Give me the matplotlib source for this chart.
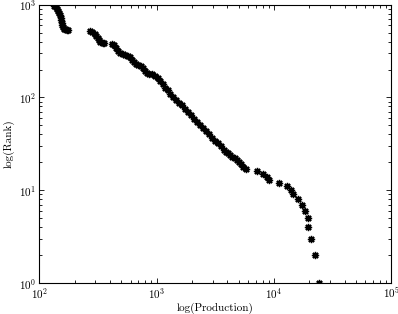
import matplotlib
matplotlib.use("Agg")
import matplotlib.pyplot as plt
from matplotlib.ticker import LogLocator, NullFormatter

plt.rcParams['font.family'] = 'serif'
plt.rcParams['font.serif'] = ['cmr10']
plt.rcParams['mathtext.fontset'] = 'cm'
plt.rcParams['axes.formatter.use_mathtext'] = True

# Rank / production pairs
rank = [1, 2, 3, 4, 5, 6, 7, 8, 9, 10, 11, 12, 13, 14, 15, 16,
        17, 18, 19, 20, 21, 22, 23, 24, 25, 26,
        27, 30, 32, 34, 37, 40, 43, 47, 50, 55, 59, 64, 70, 75, 82, 88, 95,
        102, 110, 119, 128, 139, 150, 162, 170, 177, 181, 185, 195, 207,
        218, 226, 232, 241, 256, 272, 283, 290, 297, 305, 320, 345, 367, 381,
        386, 390, 400, 415, 436, 464, 488, 513, 526,
        532, 535, 542, 553, 574, 603, 641, 682, 726, 773, 822, 864, 907, 942, 966]
production = [24000, 22400, 20800, 19650, 19600, 18240, 17360, 15960, 14640, 13850,
              12860, 11050, 9150, 8650, 7995, 7136,
              5728, 5453, 5193, 4992, 4847, 4660, 4393, 4224, 4062, 3905,
              3755, 3540, 3337, 3147, 2967, 2797, 2637, 2486, 2344, 2211, 2084,
              1965, 1852, 1746, 1646, 1553, 1464,
              1380, 1301, 1239, 1179, 1123, 1069, 1018, 969, 914, 862, 820, 789, 758,
              729, 694, 661, 636, 611, 588, 565, 538, 512, 488, 469, 451, 434, 417,
              356, 346, 332, 323, 314, 304, 296, 284, 273,
              177, 172, 167, 162, 159, 157, 155, 153, 152, 150, 148, 145, 142, 138, 134]

fig = plt.figure(figsize=(3.98, 3.14), dpi=100)
ax = fig.add_axes([0.0987, 0.0987, 0.9833 - 0.0987, 0.985 - 0.0987])

ax.plot(production, rank, linestyle='none', marker=(8, 2, 0), markersize=5.2,
        markeredgewidth=1.0, color='black')

ax.set_xscale('log')
ax.set_yscale('log')
ax.set_xlim(1e2, 1e5)
ax.set_ylim(1e0, 1e3)

for axis in (ax.xaxis, ax.yaxis):
    axis.set_major_locator(LogLocator(base=10, numticks=10))
    axis.set_minor_locator(LogLocator(base=10, subs=range(2, 10), numticks=10))
    axis.set_minor_formatter(NullFormatter())

ax.tick_params(which='both', direction='in', top=True, right=True, labelsize=8,
               width=0.6, colors='black')
ax.tick_params(which='major', length=3.5, pad=2)
ax.tick_params(which='minor', length=2)
for s in ax.spines.values():
    s.set_linewidth(0.8)

ax.set_xlabel('log(Production)', fontsize=8, labelpad=1)
ax.set_ylabel('log(Rank)', fontsize=8, labelpad=3)

fig.savefig('out.png', dpi=100)
